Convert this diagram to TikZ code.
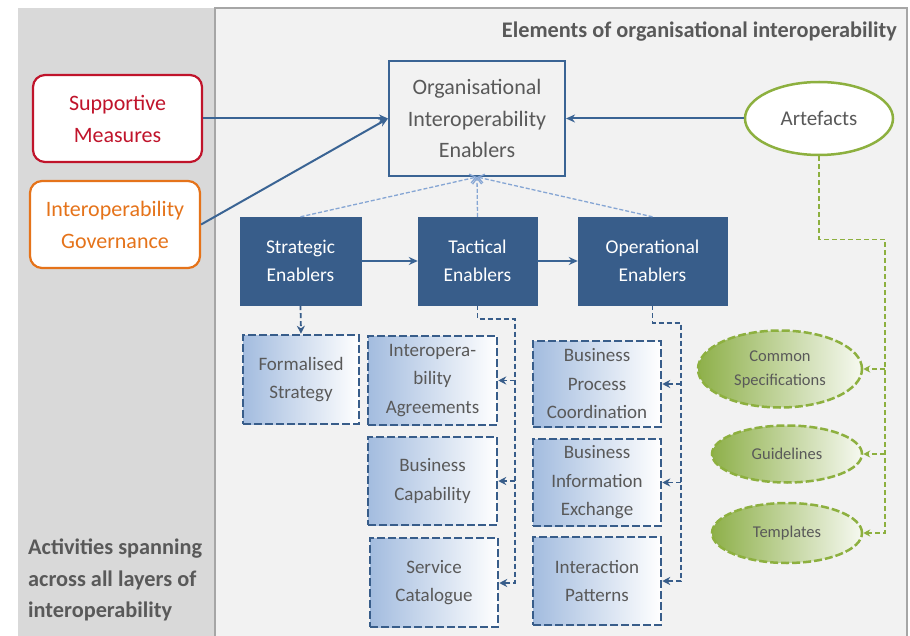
\documentclass[tikz,border=0pt]{standalone}
\usepackage{fontspec}
\setmainfont{Carlito}
\usetikzlibrary{arrows.meta,shapes.geometric,calc}
\definecolor{dblue}{HTML}{385D8A}
\definecolor{lineblue}{HTML}{3A6494}
\definecolor{lblue}{HTML}{86A6D4}
\definecolor{myred}{HTML}{C0142B}
\definecolor{myorange}{HTML}{E5731A}
\definecolor{mygreen}{HTML}{8DB03F}
\definecolor{gfill}{HTML}{8EB04A}
\definecolor{bfill}{HTML}{A3BCDF}
\definecolor{txtgray}{HTML}{595959}
\definecolor{panelL}{HTML}{D9D9D9}
\definecolor{panelR}{HTML}{F2F2F2}
\definecolor{panelB}{HTML}{A6A6A6}
\tikzset{
  fsz/.style 2 args={font=\fontsize{#1}{#2}\selectfont},
  bsz/.style 2 args={font=\fontsize{#1}{#2}\selectfont\bfseries},
  sidebox/.style={draw, line width=2.2pt, rounded corners=12pt, fill=white, align=center, inner sep=0pt, fsz={22}{32}},
  mainbox/.style={draw=lineblue, line width=2pt, fill=panelR, align=center, inner sep=0pt, text=txtgray, fsz={22}{31.5}},
  enabler/.style={draw=dblue, fill=dblue, text=white, align=center, inner sep=0pt, fsz={19.5}{28}},
  subbox/.style={draw=dblue, dash pattern=on 8pt off 3pt, line width=2.5pt, left color=bfill, right color=white, align=center, inner sep=0pt, text=txtgray, fsz={19}{28.5}},
  artbox/.style={ellipse, draw=mygreen, line width=2.5pt, fill=white, inner sep=0pt, text=txtgray, fsz={21}{25}},
  greenell/.style={ellipse, draw=mygreen, dash pattern=on 8pt off 3pt, line width=2.5pt, left color=gfill, right color=white!92!gfill, align=center, inner sep=0pt, text=txtgray, fsz={16.5}{24}},
  solidarrow/.style={draw=lineblue, line width=2pt, -{Stealth[length=9pt,width=8pt]}},
  convarrow/.style={draw=lblue, line width=1.3pt, dash pattern=on 4pt off 2pt, -{Straight Barb[length=6pt,width=9pt]}},
  bluedash/.style={draw=dblue, line width=1.8pt, dash pattern=on 5pt off 3pt},
  greendash/.style={draw=mygreen, line width=1.4pt, dash pattern=on 5pt off 3pt},
  tipb/.style={-{Stealth[length=8pt,width=8pt]}},
  tipg/.style={-{Stealth[length=7pt,width=7pt]}}
}
\begin{document}
\begin{tikzpicture}[x=1pt,y=-1pt]
\useasboundingbox (0,0) rectangle (910,636);
\fill[white] (0,0) rectangle (910,636);
% panels
\fill[panelL] (18,8) rectangle (215,636);
\draw[panelB, line width=2pt, fill=panelR] (215,8) rectangle (907,640);
\node[anchor=east, text=txtgray, bsz={22.3}{26}, inner sep=0pt] (title) at (897,32) {Elements of organisational interoperability};
\node[anchor=north west, align=left, text=txtgray, bsz={22.3}{31.2}, inner sep=0pt] (act) at (28,539) {Activities spanning\\across all layers of\\interoperability};
% side boxes
\node[sidebox, draw=myred, text=myred, minimum width=169pt, minimum height=87pt] (sup) at (117.5,118.5) {Supportive\\Measures};
\node[sidebox, draw=myorange, text=myorange, minimum width=170pt, minimum height=87pt] (gov) at (115,224.5) {Interoperability\\Governance};
% main
\node[mainbox, minimum width=176pt, minimum height=115pt] (oie) at (477,118.5) {Organisational\\Interoperability\\Enablers};
\node[artbox, minimum width=148pt, minimum height=73pt] (art) at (819,118.5) {Artefacts};
% enablers
\node[enabler, minimum width=121pt, minimum height=88pt] (str) at (300.5,261) {Strategic\\Enablers};
\node[enabler, minimum width=119pt, minimum height=88pt] (tac) at (477.5,261) {Tactical\\Enablers};
\node[enabler, minimum width=149pt, minimum height=88pt] (opr) at (652.5,261) {Operational\\Enablers};
% sub boxes
\node[subbox, minimum width=116pt, minimum height=89pt] (fs) at (301,379.5) {Formalised\\Strategy};
\node[subbox, minimum width=129pt, minimum height=89pt] (ia) at (432.5,380.5) {Interopera-\\bility\\Agreements};
\node[subbox, minimum width=129pt, minimum height=88pt] (bc) at (432.5,481) {Business\\Capability};
\node[subbox, minimum width=128pt, minimum height=89pt] (sc) at (434,582.5) {Service\\Catalogue};
\node[subbox, minimum width=128pt, minimum height=86pt] (bpc) at (597,384) {Business\\Process\\Coordination};
\node[subbox, minimum width=128pt, minimum height=87pt] (bie) at (597,482.5) {Business\\Information\\Exchange};
\node[subbox, minimum width=128pt, minimum height=88pt] (ip) at (597,581) {Interaction\\Patterns};
% green ellipses
\node[greenell, minimum width=164pt, minimum height=77pt] (cs) at (780,369) {Common\\Specifications};
\node[greenell, minimum width=150pt, minimum height=57pt] (gl) at (787,454) {Guidelines};
\node[greenell, minimum width=150pt, minimum height=60pt] (tp) at (787,533) {Templates};
% solid arrows
\draw[solidarrow] (sup.east) -- (oie.west);
\draw[solidarrow] (gov.east) -- (oie.west);
\draw[solidarrow] (art.west) -- (oie.east);
\draw[solidarrow] (str.east) -- (tac.west);
\draw[solidarrow] (tac.east) -- (opr.west);
% converging dashed
\draw[convarrow] (str.north) -- (oie.south);
\draw[convarrow] (tac.north) -- (oie.south);
\draw[convarrow] (opr.north) -- (oie.south);
% strategic
\draw[bluedash, tipb] (str.south) -- (fs.north);
% tactical
\coordinate (tx) at (515,583);
\draw[bluedash, tipb] (tac.south) -- ++(0,14) -| (tx) -- (tx -| sc.east);
\draw[bluedash, tipb] (ia.east -| tx) -- (ia.east);
\draw[bluedash, tipb] (bc.east -| tx) -- (bc.east);
% operational
\coordinate (ox) at (681,581);
\draw[bluedash, tipb] (opr.south) -- ++(0,18) -| (ox) -- (ox -| ip.east);
\draw[bluedash, tipb] (bpc.east -| ox) -- (bpc.east);
\draw[bluedash, tipb] (bie.east -| ox) -- (bie.east);
% artefacts
\coordinate (ax) at (885,533);
\draw[greendash, tipg] (art.south) -- ++(0,83) -| (ax) -- (tp.east);
\draw[greendash, tipg] (cs.east -| ax) -- (cs.east);
\draw[greendash, tipg] (gl.east -| ax) -- (gl.east);
\end{tikzpicture}
\end{document}
